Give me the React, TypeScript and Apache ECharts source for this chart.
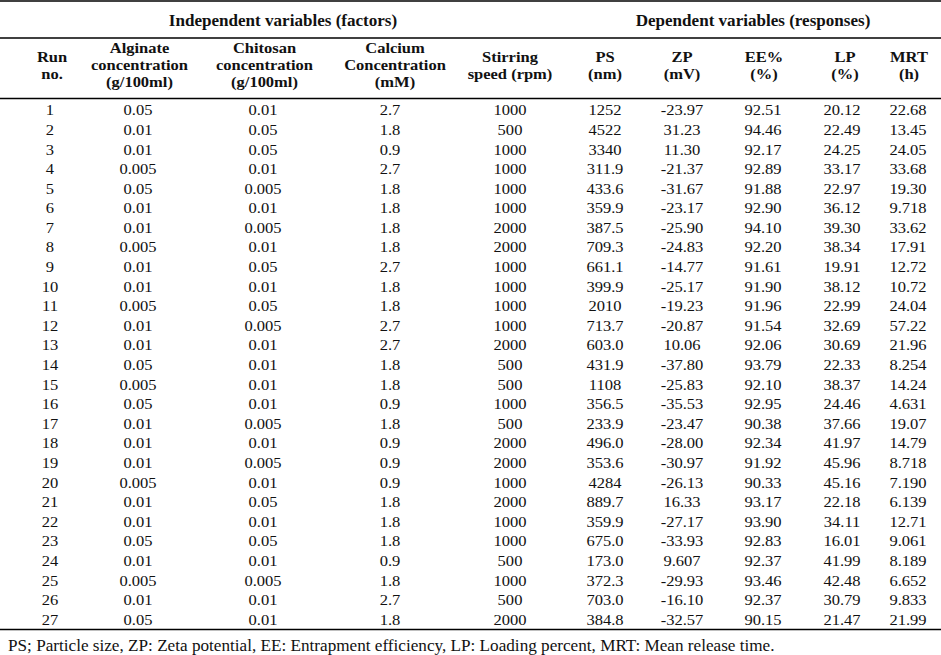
import React, { useEffect, useRef } from "react";
import * as echarts from "echarts";

// ---- data ----
const runs = [1, 2, 3, 4, 5, 6, 7, 8, 9, 10, 11, 12, 13, 14, 15, 16, 17, 18, 19, 20, 21, 22, 23, 24, 25, 26, 27];
const alginate = [0.05, 0.01, 0.01, 0.005, 0.05, 0.01, 0.01, 0.005, 0.01, 0.01, 0.005, 0.01, 0.01, 0.05, 0.005, 0.05, 0.01, 0.01, 0.01, 0.005, 0.01, 0.01, 0.05, 0.01, 0.005, 0.01, 0.05];
const chitosan = [0.01, 0.05, 0.05, 0.01, 0.005, 0.01, 0.005, 0.01, 0.05, 0.01, 0.05, 0.005, 0.01, 0.01, 0.01, 0.01, 0.005, 0.01, 0.005, 0.01, 0.05, 0.01, 0.05, 0.01, 0.005, 0.01, 0.01];
const calcium = [2.7, 1.8, 0.9, 2.7, 1.8, 1.8, 1.8, 1.8, 2.7, 1.8, 1.8, 2.7, 2.7, 1.8, 1.8, 0.9, 1.8, 0.9, 0.9, 0.9, 1.8, 1.8, 1.8, 0.9, 1.8, 2.7, 1.8];
const stirring = [1000, 500, 1000, 1000, 1000, 1000, 2000, 2000, 1000, 1000, 1000, 1000, 2000, 500, 500, 1000, 500, 2000, 2000, 1000, 2000, 1000, 1000, 500, 1000, 500, 2000];
const ps = [1252, 4522, 3340, 311.9, 433.6, 359.9, 387.5, 709.3, 661.1, 399.9, 2010, 713.7, 603.0, 431.9, 1108, 356.5, 233.9, 496.0, 353.6, 4284, 889.7, 359.9, 675.0, 173.0, 372.3, 703.0, 384.8];
const zp = [-23.97, 31.23, 11.30, -21.37, -31.67, -23.17, -25.90, -24.83, -14.77, -25.17, -19.23, -20.87, 10.06, -37.80, -25.83, -35.53, -23.47, -28.00, -30.97, -26.13, 16.33, -27.17, -33.93, 9.607, -29.93, -16.10, -32.57];
const ee = [92.51, 94.46, 92.17, 92.89, 91.88, 92.90, 94.10, 92.20, 91.61, 91.90, 91.96, 91.54, 92.06, 93.79, 92.10, 92.95, 90.38, 92.34, 91.92, 90.33, 93.17, 93.90, 92.83, 92.37, 93.46, 92.37, 90.15];
const lp = [20.12, 22.49, 24.25, 33.17, 22.97, 36.12, 39.30, 38.34, 19.91, 38.12, 22.99, 32.69, 30.69, 22.33, 38.37, 24.46, 37.66, 41.97, 45.96, 45.16, 22.18, 34.11, 16.01, 41.99, 42.48, 30.79, 21.47];
const mrt = [22.68, 13.45, 24.05, 33.68, 19.30, 9.718, 33.62, 17.91, 12.72, 10.72, 24.04, 57.22, 21.96, 8.254, 14.24, 4.631, 19.07, 14.79, 8.718, 7.190, 6.139, 12.71, 9.061, 8.189, 6.652, 9.833, 21.99];

const groupHeaders = ["Independent variables (factors)", "Dependent variables (responses)"];
const columnHeaders = [
  ["Run", "no."],
  ["Alginate", "concentration", "(g/100ml)"],
  ["Chitosan", "concentration", "(g/100ml)"],
  ["Calcium", "Concentration", "(mM)"],
  ["Stirring", "speed (rpm)"],
  ["PS", "(nm)"],
  ["ZP", "(mV)"],
  ["EE%", "(%)"],
  ["LP", "(%)"],
  ["MRT", "(h)"],
];
const footnote = "PS; Particle size, ZP: Zeta potential, EE: Entrapment efficiency, LP: Loading percent, MRT: Mean release time.";

// ---- layout (positions only) ----
const W = 941;
const H = 655;
const FONT = '"Liberation Serif", "Times New Roman", serif';
const valueX = [50, 138, 263, 390, 510, 605, 682, 763, 842, 908];
const headerX = [52, 139.5, 264.5, 395, 510, 605, 682, 764, 845, 909];
const groupX = [283, 753];

const fmtFactor = (v: number) => String(v);
const fmtResp = (v: number) => v.toPrecision(4);

const columns: { values: number[]; fmt: (v: number) => string }[] = [
  { values: runs, fmt: (v) => String(v) },
  { values: alginate, fmt: fmtFactor },
  { values: chitosan, fmt: fmtFactor },
  { values: calcium, fmt: fmtFactor },
  { values: stirring, fmt: (v) => String(v) },
  { values: ps, fmt: fmtResp },
  { values: zp, fmt: fmtResp },
  { values: ee, fmt: fmtResp },
  { values: lp, fmt: fmtResp },
  { values: mrt, fmt: fmtResp },
];

export default function App() {
  const ref = useRef<HTMLDivElement>(null);
  useEffect(() => {
    if (!ref.current) return;
    const chart = echarts.init(ref.current, undefined, { renderer: "svg", width: W, height: H });

    const textColor = "#111";
    const series = columns.map((col, ci) => ({
      type: "custom",
      coordinateSystem: "cartesian2d",
      silent: true,
      data: col.values.map((_, ri) => [valueX[ci], ri]),
      renderItem: (params: any, api: any) => {
        const p = api.coord([api.value(0), api.value(1)]);
        return {
          type: "text",
          x: p[0],
          y: p[1],
          scaleX: 1.06,
          style: {
            text: col.fmt(col.values[params.dataIndex]),
            fill: textColor,
            font: `15.6px ${FONT}`,
            align: "center",
            verticalAlign: "middle",
          },
        };
      },
    }));

    const graphics: any[] = [];
    const hline = (y: number) => ({
      type: "line",
      shape: { x1: 0, y1: y, x2: W, y2: y },
      style: { stroke: "#000", lineWidth: 1.4 },
      silent: true,
    });
    graphics.push(hline(1), hline(38), hline(98.5), hline(629.5));
    groupHeaders.forEach((t, i) =>
      graphics.push({
        type: "text",
        x: groupX[i],
        y: 20.5,
        scaleX: 1.08,
        style: { text: t, fill: textColor, font: `bold 15.8px ${FONT}`, align: "center", verticalAlign: "middle" },
      })
    );
    columnHeaders.forEach((lines, i) => {
      const ys = lines.length === 3 ? [47.5, 64.5, 81.5] : [57, 74];
      lines.forEach((t, j) =>
        graphics.push({
          type: "text",
          x: headerX[i],
          y: ys[j],
          scaleX: 1.1,
          style: { text: t, fill: textColor, font: `bold 15px ${FONT}`, align: "center", verticalAlign: "middle" },
        })
      );
    });
    graphics.push({
      type: "text",
      x: 8,
      y: 646,
      scaleX: 1.08,
      style: { text: footnote, fill: textColor, font: `15.9px ${FONT}`, align: "left", verticalAlign: "middle" },
    });

    chart.setOption({
      animation: false,
      backgroundColor: "#fff",
      grid: { left: 0, right: 0, top: 100.2, height: 529 },
      xAxis: { type: "value", min: 0, max: W, show: false },
      yAxis: { type: "category", data: runs.map(String), inverse: true, show: false },
      series,
      graphic: graphics,
    });
    return () => chart.dispose();
  }, []);
  return <div ref={ref} style={{ position: "fixed", left: 0, top: 0, width: W, height: H, background: "#fff" }} />;
}
